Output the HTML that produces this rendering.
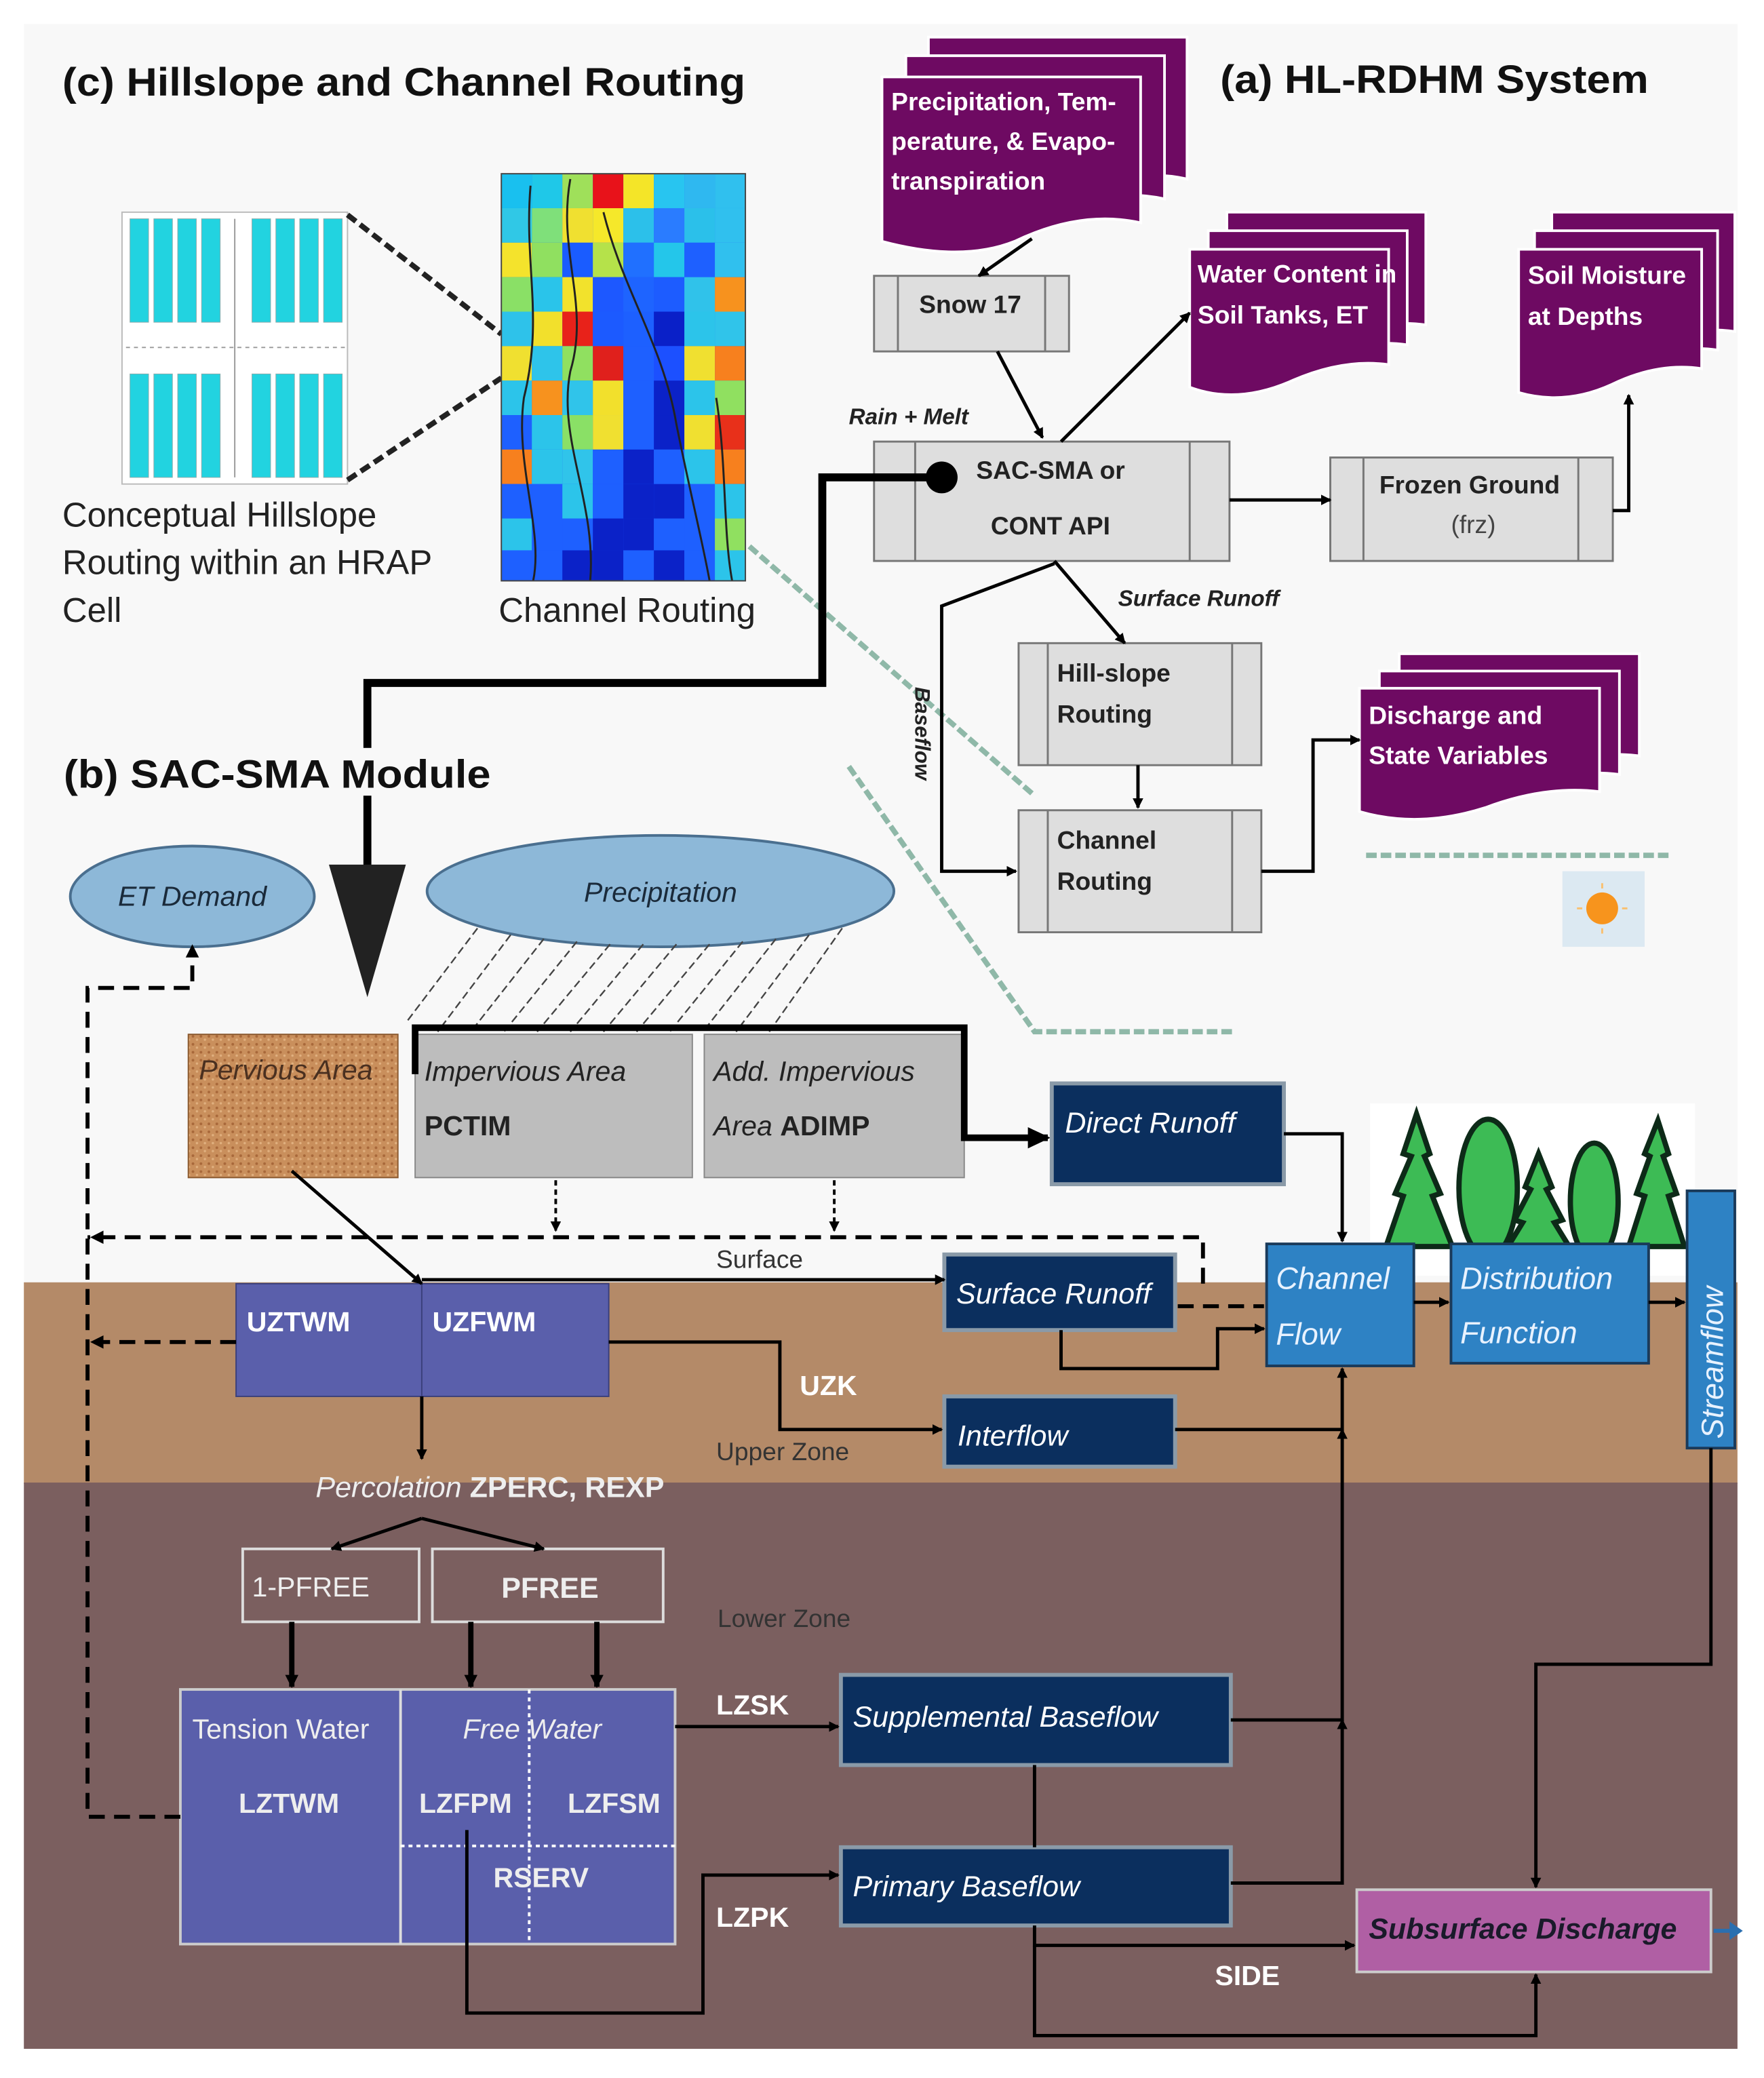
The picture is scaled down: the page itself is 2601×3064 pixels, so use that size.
<!DOCTYPE html>
<html><head><meta charset="utf-8"><style>
html,body{margin:0;padding:0;background:#fff}
svg{display:block}
text{font-family:"Liberation Sans",sans-serif}
</style></head><body>
<svg width="2601" height="3064" viewBox="0 0 1330 1567" preserveAspectRatio="none" xmlns="http://www.w3.org/2000/svg">
<defs>
<marker id="ah" markerWidth="8" markerHeight="8" refX="7" refY="4" orient="auto" markerUnits="userSpaceOnUse"><path d="M0,0 L8,4 L0,8 z" fill="#000"/></marker>
<marker id="ahb" markerWidth="10" markerHeight="10" refX="9" refY="5" orient="auto" markerUnits="userSpaceOnUse"><path d="M0,0 L10,5 L0,10 z" fill="#000"/></marker>
<pattern id="sand" width="6" height="6" patternUnits="userSpaceOnUse"><rect width="6" height="6" fill="#c98f5c"/><circle cx="1.5" cy="1.5" r="1" fill="#a8683a"/><circle cx="4.5" cy="4" r="0.9" fill="#e0b07f"/></pattern>
</defs>
<rect width="1330" height="1567" fill="#fff"/>
<rect x="18" y="18" width="1292" height="950" fill="#f8f8f8"/>
<rect x="18" y="967" width="1292" height="152" fill="#b48a68"/>
<rect x="18" y="1118" width="1292" height="427" fill="#7b5f5f"/>

<text x="47" y="72" font-size="30" font-weight="bold" fill="#111" textLength="515" lengthAdjust="spacingAndGlyphs">(c) Hillslope and Channel Routing</text>
<text x="920" y="70" font-size="30" font-weight="bold" fill="#111" textLength="323" lengthAdjust="spacingAndGlyphs">(a) HL-RDHM System</text>

<rect x="92" y="160" width="170" height="205" fill="#fff" stroke="#bbb"/>
<g fill="#22d3e0" stroke="#8aa" stroke-width="0.5">
<rect x="98" y="165" width="14" height="78"/><rect x="116" y="165" width="14" height="78"/><rect x="134" y="165" width="14" height="78"/><rect x="152" y="165" width="14" height="78"/>
<rect x="190" y="165" width="14" height="78"/><rect x="208" y="165" width="14" height="78"/><rect x="226" y="165" width="14" height="78"/><rect x="244" y="165" width="14" height="78"/>
<rect x="98" y="282" width="14" height="78"/><rect x="116" y="282" width="14" height="78"/><rect x="134" y="282" width="14" height="78"/><rect x="152" y="282" width="14" height="78"/>
<rect x="190" y="282" width="14" height="78"/><rect x="208" y="282" width="14" height="78"/><rect x="226" y="282" width="14" height="78"/><rect x="244" y="282" width="14" height="78"/>
</g>
<line x1="177" y1="165" x2="177" y2="360" stroke="#999"/>
<line x1="95" y1="262" x2="260" y2="262" stroke="#999" stroke-dasharray="3,3"/>
<line x1="262" y1="162" x2="378" y2="252" stroke="#222" stroke-width="4" stroke-dasharray="8,4"/>
<line x1="262" y1="362" x2="378" y2="285" stroke="#222" stroke-width="4" stroke-dasharray="8,4"/>
<text x="47" y="397" font-size="26" fill="#222">Conceptual Hillslope</text>
<text x="47" y="433" font-size="26" fill="#222">Routing within an HRAP</text>
<text x="47" y="469" font-size="26" fill="#222">Cell</text>
<text x="376" y="469" font-size="26" fill="#222">Channel Routing</text>

<g id="hm">
<rect x="378" y="131" width="184" height="307" fill="#1e5aff"/>
<g>
<rect x="378" y="131" width="23" height="26" fill="#19c0ef"/><rect x="401" y="131" width="23" height="26" fill="#1fc8e8"/><rect x="424" y="131" width="23" height="26" fill="#9fe05a"/><rect x="447" y="131" width="23" height="26" fill="#e8121a"/><rect x="470" y="131" width="23" height="26" fill="#f4e528"/><rect x="493" y="131" width="23" height="26" fill="#28c5f0"/><rect x="516" y="131" width="23" height="26" fill="#2fb8f0"/><rect x="539" y="131" width="23" height="26" fill="#30c0ee"/>
<rect x="378" y="157" width="23" height="26" fill="#30c8e6"/><rect x="401" y="157" width="23" height="26" fill="#7fe07a"/><rect x="424" y="157" width="23" height="26" fill="#f0e030"/><rect x="447" y="157" width="23" height="26" fill="#f5e82a"/><rect x="470" y="157" width="23" height="26" fill="#2cc0ea"/><rect x="493" y="157" width="23" height="26" fill="#2a7cff"/><rect x="516" y="157" width="23" height="26" fill="#2bc0ea"/><rect x="539" y="157" width="23" height="26" fill="#30c0ee"/>
<rect x="378" y="183" width="23" height="26" fill="#f4e32c"/><rect x="401" y="183" width="23" height="26" fill="#90e060"/><rect x="424" y="183" width="23" height="26" fill="#1a5cff"/><rect x="447" y="183" width="23" height="26" fill="#b5e24a"/><rect x="470" y="183" width="23" height="26" fill="#2070ff"/><rect x="493" y="183" width="23" height="26" fill="#24c6ea"/><rect x="516" y="183" width="23" height="26" fill="#1e60ff"/><rect x="539" y="183" width="23" height="26" fill="#30c0ee"/>
<rect x="378" y="209" width="23" height="26" fill="#8ae066"/><rect x="401" y="209" width="23" height="26" fill="#2ac4ea"/><rect x="424" y="209" width="23" height="26" fill="#f2e22c"/><rect x="447" y="209" width="23" height="26" fill="#1d58ff"/><rect x="470" y="209" width="23" height="26" fill="#1e64ff"/><rect x="493" y="209" width="23" height="26" fill="#1d5cff"/><rect x="516" y="209" width="23" height="26" fill="#30c2ea"/><rect x="539" y="209" width="23" height="26" fill="#f7921e"/>
<rect x="378" y="235" width="23" height="26" fill="#2ec2ea"/><rect x="401" y="235" width="23" height="26" fill="#f2e02c"/><rect x="424" y="235" width="23" height="26" fill="#e8221a"/><rect x="447" y="235" width="23" height="26" fill="#1c5aff"/><rect x="470" y="235" width="23" height="26" fill="#1d60ff"/><rect x="493" y="235" width="23" height="26" fill="#0a20c8"/><rect x="516" y="235" width="23" height="26" fill="#2cc4ea"/><rect x="539" y="235" width="23" height="26" fill="#30c4ea"/>
<rect x="378" y="261" width="23" height="26" fill="#f0e030"/><rect x="401" y="261" width="23" height="26" fill="#2ec4ea"/><rect x="424" y="261" width="23" height="26" fill="#90e060"/><rect x="447" y="261" width="23" height="26" fill="#e0201c"/><rect x="470" y="261" width="23" height="26" fill="#1e60ff"/><rect x="493" y="261" width="23" height="26" fill="#1c50ff"/><rect x="516" y="261" width="23" height="26" fill="#f0e030"/><rect x="539" y="261" width="23" height="26" fill="#f7801e"/>
<rect x="378" y="287" width="23" height="26" fill="#2cc4ea"/><rect x="401" y="287" width="23" height="26" fill="#f7921e"/><rect x="424" y="287" width="23" height="26" fill="#30c4ea"/><rect x="447" y="287" width="23" height="26" fill="#f2e02c"/><rect x="470" y="287" width="23" height="26" fill="#1e60ff"/><rect x="493" y="287" width="23" height="26" fill="#0b22c8"/><rect x="516" y="287" width="23" height="26" fill="#2cc4ea"/><rect x="539" y="287" width="23" height="26" fill="#90e060"/>
<rect x="378" y="313" width="23" height="26" fill="#1e60ff"/><rect x="401" y="313" width="23" height="26" fill="#2cc4ea"/><rect x="424" y="313" width="23" height="26" fill="#8ae066"/><rect x="447" y="313" width="23" height="26" fill="#f0e030"/><rect x="470" y="313" width="23" height="26" fill="#1e60ff"/><rect x="493" y="313" width="23" height="26" fill="#0b22c8"/><rect x="516" y="313" width="23" height="26" fill="#f0e030"/><rect x="539" y="313" width="23" height="26" fill="#e8301a"/>
<rect x="378" y="339" width="23" height="26" fill="#f7801e"/><rect x="401" y="339" width="23" height="26" fill="#2cc4ea"/><rect x="424" y="339" width="23" height="26" fill="#30c4ea"/><rect x="447" y="339" width="23" height="26" fill="#1e60ff"/><rect x="470" y="339" width="23" height="26" fill="#0b22c8"/><rect x="493" y="339" width="23" height="26" fill="#1e60ff"/><rect x="516" y="339" width="23" height="26" fill="#2cc4ea"/><rect x="539" y="339" width="23" height="26" fill="#f7801e"/>
<rect x="378" y="365" width="23" height="26" fill="#1e60ff"/><rect x="401" y="365" width="23" height="26" fill="#1e60ff"/><rect x="424" y="365" width="23" height="26" fill="#2cc4ea"/><rect x="447" y="365" width="23" height="26" fill="#1e60ff"/><rect x="470" y="365" width="23" height="26" fill="#0b22c8"/><rect x="493" y="365" width="23" height="26" fill="#0b22c8"/><rect x="516" y="365" width="23" height="26" fill="#1e60ff"/><rect x="539" y="365" width="23" height="26" fill="#2cc4ea"/>
<rect x="378" y="391" width="23" height="24" fill="#2cc4ea"/><rect x="401" y="391" width="23" height="24" fill="#1e60ff"/><rect x="424" y="391" width="23" height="24" fill="#1e60ff"/><rect x="447" y="391" width="23" height="24" fill="#0b22c8"/><rect x="470" y="391" width="23" height="24" fill="#0b22c8"/><rect x="493" y="391" width="23" height="24" fill="#1e60ff"/><rect x="516" y="391" width="23" height="24" fill="#1e60ff"/><rect x="539" y="391" width="23" height="24" fill="#90e060"/>
<rect x="378" y="415" width="23" height="23" fill="#1e60ff"/><rect x="401" y="415" width="23" height="23" fill="#1e60ff"/><rect x="424" y="415" width="23" height="23" fill="#0b22c8"/><rect x="447" y="415" width="23" height="23" fill="#0b22c8"/><rect x="470" y="415" width="23" height="23" fill="#1e60ff"/><rect x="493" y="415" width="23" height="23" fill="#0b22c8"/><rect x="516" y="415" width="23" height="23" fill="#1e60ff"/><rect x="539" y="415" width="23" height="23" fill="#2cc4ea"/>
</g>
<path d="M400,140 C395,200 410,240 395,300 C388,350 410,400 402,438" stroke="#222" stroke-width="1.5" fill="none"/>
<path d="M430,135 C420,190 445,230 430,280 C420,330 450,380 445,438" stroke="#222" stroke-width="1.5" fill="none"/>
<path d="M455,160 C470,220 500,260 510,320 C520,370 530,410 535,438" stroke="#222" stroke-width="1.5" fill="none"/>
<path d="M540,300 C548,350 545,400 552,438" stroke="#222" stroke-width="1.5" fill="none"/>
<rect x="378" y="131" width="184" height="307" fill="none" stroke="#444"/>
</g>

<path d="M565,412 L780,600" stroke="#8fb8a8" stroke-width="4" stroke-dasharray="8,3" fill="none"/>
<path d="M640,578 L780,778 L930,778" stroke="#8fb8a8" stroke-width="4" stroke-dasharray="8,3" fill="none"/>
<line x1="1030" y1="645" x2="1260" y2="645" stroke="#8fb8a8" stroke-width="4" stroke-dasharray="8,3"/>
<rect x="1178" y="657" width="62" height="57" fill="#dce9f2"/>
<circle cx="1208" cy="685" r="12" fill="#f7941d"/>
<g stroke="#f9c070" stroke-width="1.5"><line x1="1208" y1="666" x2="1208" y2="670"/><line x1="1208" y1="700" x2="1208" y2="704"/><line x1="1189" y1="685" x2="1193" y2="685"/><line x1="1223" y1="685" x2="1227" y2="685"/></g>

<g fill="#6e0a62" stroke="#fff" stroke-width="2">
<path d="M700,28 H895 V135 Q850,125 800,150 Q760,165 700,150 Z"/>
<path d="M683,42 H878 V150 Q833,140 783,165 Q743,180 683,165 Z"/>
<path d="M665,58 H860 V168 Q815,158 765,182 Q725,198 665,182 Z"/>
<path d="M925,160 H1075 V245 Q1040,240 1000,258 Q960,275 925,262 Z"/>
<path d="M911,174 H1061 V260 Q1026,255 986,272 Q946,290 911,277 Z"/>
<path d="M897,188 H1047 V275 Q1012,270 972,288 Q932,305 897,292 Z"/>
<path d="M1170,160 H1308 V250 Q1275,245 1240,262 Q1205,278 1170,268 Z"/>
<path d="M1157,174 H1295 V264 Q1262,259 1227,276 Q1192,292 1157,282 Z"/>
<path d="M1145,188 H1283 V278 Q1250,273 1215,290 Q1180,306 1145,296 Z"/>
<path d="M1055,493 H1236 V570 Q1195,565 1150,582 Q1100,598 1055,585 Z"/>
<path d="M1040,506 H1221 V584 Q1180,579 1135,596 Q1085,612 1040,599 Z"/>
<path d="M1025,519 H1206 V597 Q1165,592 1120,609 Q1070,625 1025,612 Z"/>
</g>
<g fill="#fff" font-size="19" font-weight="bold">
<text x="672" y="83">Precipitation, Tem-</text>
<text x="672" y="113">perature, &amp; Evapo-</text>
<text x="672" y="143">transpiration</text>
<text x="903" y="213" textLength="150" lengthAdjust="spacingAndGlyphs">Water Content in</text>
<text x="903" y="244">Soil Tanks, ET</text>
<text x="1152" y="214">Soil Moisture</text>
<text x="1152" y="245">at Depths</text>
<text x="1032" y="546">Discharge and</text>
<text x="1032" y="576">State Variables</text>
</g>

<g fill="#dedede" stroke="#777" stroke-width="1.5">
<rect x="659" y="208" width="147" height="57"/>
<rect x="659" y="333" width="268" height="90"/>
<rect x="1003" y="345" width="213" height="78"/>
<rect x="768" y="485" width="183" height="92"/>
<rect x="768" y="611" width="183" height="92"/>
</g>
<g stroke="#777" stroke-width="1.5">
<line x1="677" y1="208" x2="677" y2="265"/><line x1="788" y1="208" x2="788" y2="265"/>
<line x1="690" y1="333" x2="690" y2="423"/><line x1="897" y1="333" x2="897" y2="423"/>
<line x1="1028" y1="345" x2="1028" y2="423"/><line x1="1190" y1="345" x2="1190" y2="423"/>
<line x1="790" y1="485" x2="790" y2="577"/><line x1="929" y1="485" x2="929" y2="577"/>
<line x1="790" y1="611" x2="790" y2="703"/><line x1="929" y1="611" x2="929" y2="703"/>
</g>
<g font-size="19" font-weight="bold" fill="#222">
<text x="693" y="236">Snow 17</text>
<text x="736" y="361">SAC-SMA or</text>
<text x="747" y="403">CONT API</text>
<text x="1040" y="372">Frozen Ground</text>
<text x="1094" y="402" font-weight="normal" fill="#444">(frz)</text>
<text x="797" y="514">Hill-slope</text>
<text x="797" y="545">Routing</text>
<text x="797" y="640">Channel</text>
<text x="797" y="671">Routing</text>
</g>
<g font-size="17" font-weight="bold" font-style="italic" fill="#222">
<text x="640" y="320">Rain + Melt</text>
<text x="843" y="457">Surface Runoff</text>
<text transform="translate(690,518) rotate(90)" font-size="16">Baseflow</text>
</g>
<g stroke="#000" stroke-width="2.5" fill="none" marker-end="url(#ah)">
<line x1="778" y1="180" x2="738" y2="208"/>
<line x1="752" y1="265" x2="786" y2="330"/>
<line x1="800" y1="333" x2="897" y2="236"/>
<line x1="927" y1="377" x2="1003" y2="377"/>
<polyline points="1216,385 1228,385 1228,298"/>
<polyline points="795,423 848,485"/>
<line x1="858" y1="577" x2="858" y2="609"/>
<polyline points="795,425 710,457 710,657 766,657"/>
<polyline points="951,657 990,657 990,558 1025,558"/>
</g>
<circle cx="710" cy="360" r="12" fill="#000"/>
<polyline points="710,360 620,360 620,515 277,515 277,655" stroke="#000" stroke-width="6" fill="none"/>
<path d="M248,652 L306,652 L277,752 Z" fill="#222"/>
<rect x="262" y="564" width="30" height="36" fill="#f8f8f8"/>
<text x="48" y="594" font-size="30" font-weight="bold" fill="#111" textLength="322" lengthAdjust="spacingAndGlyphs">(b) SAC-SMA Module</text>

<ellipse cx="145" cy="676" rx="92" ry="38" fill="#8db8d8" stroke="#4a6f8f" stroke-width="2"/>
<text x="145" y="683" text-anchor="middle" font-size="21" font-style="italic" fill="#1a2a3a">ET Demand</text>
<ellipse cx="498" cy="672" rx="176" ry="42" fill="#8db8d8" stroke="#4a6f8f" stroke-width="2"/>
<text x="498" y="680" text-anchor="middle" font-size="21" font-style="italic" fill="#1a2a3a">Precipitation</text>
<g stroke="#444" stroke-width="1.2" stroke-dasharray="6,3">
<line x1="360" y1="700" x2="307" y2="770"/><line x1="385" y1="705" x2="330" y2="778"/><line x1="410" y1="708" x2="355" y2="778"/><line x1="435" y1="710" x2="380" y2="778"/><line x1="460" y1="712" x2="405" y2="778"/><line x1="485" y1="712" x2="430" y2="778"/><line x1="510" y1="712" x2="455" y2="778"/><line x1="535" y1="712" x2="480" y2="778"/><line x1="560" y1="710" x2="505" y2="778"/><line x1="585" y1="708" x2="530" y2="778"/><line x1="610" y1="705" x2="555" y2="778"/><line x1="635" y1="700" x2="580" y2="778"/>
</g>

<rect x="142" y="780" width="158" height="108" fill="url(#sand)" stroke="#8a5a30"/>
<text x="150" y="814" font-size="21" font-style="italic" fill="#4a3020">Pervious Area</text>
<rect x="313" y="780" width="209" height="108" fill="#bdbdbd" stroke="#888"/>
<rect x="531" y="780" width="196" height="108" fill="#bdbdbd" stroke="#888"/>
<polyline points="313,810 313,775 727,775 727,858 790,858" stroke="#000" stroke-width="5" fill="none"/>
<path d="M775,850 L792,858 L775,866 Z" fill="#000"/>
<g font-size="21" fill="#222">
<text x="320" y="815" font-style="italic">Impervious Area</text>
<text x="320" y="856" font-weight="bold">PCTIM</text>
<text x="538" y="815" font-style="italic">Add. Impervious</text>
<text x="538" y="856"><tspan font-style="italic">Area </tspan><tspan font-weight="bold">ADIMP</tspan></text>
</g>
<g stroke="#000" stroke-width="2" stroke-dasharray="4,3" marker-end="url(#ah)">
<line x1="419" y1="890" x2="419" y2="928"/><line x1="629" y1="890" x2="629" y2="928"/>
</g>

<g fill="#0b2f5e" stroke="#8a9aa8" stroke-width="3">
<rect x="793" y="817" width="175" height="76"/>
<rect x="712" y="946" width="174" height="57"/>
<rect x="712" y="1053" width="174" height="53"/>
<rect x="634" y="1263" width="294" height="68"/>
<rect x="634" y="1393" width="294" height="59"/>
</g>
<g fill="#fff" font-size="22" font-style="italic">
<text x="803" y="854">Direct Runoff</text>
<text x="721" y="983">Surface Runoff</text>
<text x="722" y="1090">Interflow</text>
<text x="643" y="1302">Supplemental Baseflow</text>
<text x="643" y="1430">Primary Baseflow</text>
</g>

<rect x="1033" y="832" width="245" height="130" fill="#fff"/>
<g fill="#3dbb55" stroke="#0d2a18" stroke-width="4">
<path d="M1068,840 L1078,870 L1074,872 L1086,900 L1080,902 L1095,940 L1045,940 L1058,902 L1052,900 L1064,872 L1058,870 Z"/>
<ellipse cx="1122" cy="896" rx="22" ry="52"/>
<path d="M1160,870 L1170,895 L1166,897 L1178,920 L1172,922 L1188,948 L1132,948 L1148,922 L1142,920 L1154,897 L1150,895 Z"/>
<ellipse cx="1202" cy="906" rx="18" ry="44"/>
<path d="M1250,845 L1258,870 L1254,872 L1264,900 L1258,902 L1270,940 L1228,940 L1240,902 L1234,900 L1244,872 L1240,870 Z"/>
</g>

<g fill="#2e82c4" stroke="#1a3a5a" stroke-width="2">
<rect x="955" y="938" width="111" height="92"/>
<rect x="1094" y="938" width="149" height="90"/>
<rect x="1272" y="898" width="36" height="194"/>
</g>
<g fill="#e8f2ff" font-size="23" font-style="italic">
<text x="962" y="972">Channel</text>
<text x="962" y="1014">Flow</text>
<text x="1101" y="972">Distribution</text>
<text x="1101" y="1013">Function</text>
<text transform="translate(1299,1085) rotate(-90)">Streamflow</text>
</g>

<rect x="178" y="968" width="281" height="85" fill="#5a5fab" stroke="#3a3f7b"/>
<line x1="318" y1="968" x2="318" y2="1053" stroke="#3a3f7b"/>
<g fill="#fff" font-size="21" font-weight="bold">
<text x="186" y="1004">UZTWM</text>
<text x="326" y="1004">UZFWM</text>
</g>
<text x="540" y="956" font-size="19" fill="#333">Surface</text>
<text x="540" y="1101" font-size="19" fill="#333">Upper Zone</text>
<text x="603" y="1052" font-size="21" font-weight="bold" fill="#fff">UZK</text>
<text x="541" y="1227" font-size="19" fill="#333">Lower Zone</text>

<text x="238" y="1129" font-size="22" fill="#eee"><tspan font-style="italic">Percolation </tspan><tspan font-weight="bold">ZPERC, REXP</tspan></text>
<rect x="183" y="1168" width="133" height="55" fill="none" stroke="#ddd" stroke-width="2"/>
<rect x="326" y="1168" width="174" height="55" fill="none" stroke="#ddd" stroke-width="2"/>
<text x="190" y="1204" font-size="21" fill="#eee">1-PFREE</text>
<text x="378" y="1205" font-size="22" font-weight="bold" fill="#eee">PFREE</text>

<rect x="136" y="1274" width="373" height="192" fill="#5a5fab" stroke="#ccc" stroke-width="2"/>
<line x1="302" y1="1274" x2="302" y2="1466" stroke="#ddd" stroke-width="2"/>
<line x1="399" y1="1274" x2="399" y2="1466" stroke="#fff" stroke-width="2" stroke-dasharray="3,3"/>
<line x1="302" y1="1392" x2="509" y2="1392" stroke="#fff" stroke-width="2" stroke-dasharray="3,3"/>
<g fill="#eee" font-size="21">
<text x="145" y="1311">Tension Water</text>
<text x="349" y="1311" font-style="italic">Free Water</text>
<text x="180" y="1367" font-weight="bold">LZTWM</text>
<text x="316" y="1367" font-weight="bold">LZFPM</text>
<text x="428" y="1367" font-weight="bold">LZFSM</text>
<text x="372" y="1423" font-weight="bold">RSERV</text>
<text x="540" y="1293" font-weight="bold" fill="#fff">LZSK</text>
<text x="540" y="1453" font-weight="bold" fill="#fff">LZPK</text>
<text x="916" y="1497" font-weight="bold" fill="#fff">SIDE</text>
</g>

<rect x="1023" y="1425" width="267" height="62" fill="#b05fa4" stroke="#ccc" stroke-width="2"/>
<text x="1032" y="1462" font-size="22" font-weight="bold" font-style="italic" fill="#1a1a2a">Subsurface Discharge</text>
<path d="M1292,1456 L1312,1456" stroke="#2a6fb0" stroke-width="3"/>
<path d="M1304,1449 L1314,1456 L1304,1463 Z" fill="#2a6fb0"/>

<g stroke="#000" stroke-width="2.5" fill="none" marker-end="url(#ah)">
<line x1="220" y1="883" x2="318" y2="968"/>
<polyline points="318,965 712,965"/>
<polyline points="459,1012 588,1012 588,1078 710,1078"/>
<line x1="318" y1="1053" x2="318" y2="1100"/>
<polyline points="318,1145 250,1168"/>
<polyline points="318,1145 410,1168"/>
<polyline points="968,855 1012,855 1012,936"/>
<polyline points="800,1003 800,1032 918,1032 918,1002 953,1002"/>
<polyline points="886,1078 1012,1078 1012,1032"/>
<polyline points="928,1297 1012,1297 1012,1078"/>
<polyline points="928,1420 1012,1420 1012,1297"/>
<line x1="1066" y1="982" x2="1092" y2="982"/>
<line x1="1243" y1="982" x2="1270" y2="982"/>
<polyline points="1290,1092 1290,1255 1158,1255 1158,1423"/>
<polyline points="509,1302 632,1302"/>
<polyline points="352,1380 352,1518 530,1518 530,1414 632,1414"/>
<polyline points="780,1452 780,1467 1021,1467"/>
<polyline points="780,1467 780,1535 1158,1535 1158,1489"/>
</g>
<line x1="780" y1="1331" x2="780" y2="1393" stroke="#000" stroke-width="2.5"/>
<g stroke="#000" stroke-width="4" fill="none" marker-end="url(#ahb)">
<line x1="220" y1="1223" x2="220" y2="1272"/>
<line x1="355" y1="1223" x2="355" y2="1272"/>
<line x1="450" y1="1223" x2="450" y2="1272"/>
</g>
<g stroke="#000" stroke-width="3" stroke-dasharray="12,7" fill="none">
<polyline points="136,1370 66,1370 66,745 145,745 145,720"/>
<polyline points="907,968 907,933 66,933"/>
<polyline points="178,1012 66,1012"/>
<polyline points="888,985 953,985"/>
</g>
<path d="M140,722 L145,712 L150,722 Z" fill="#000"/>
<path d="M78,928 L68,933 L78,938 Z" fill="#000"/>
<path d="M78,1007 L68,1012 L78,1017 Z" fill="#000"/>
</svg>
</body></html>
